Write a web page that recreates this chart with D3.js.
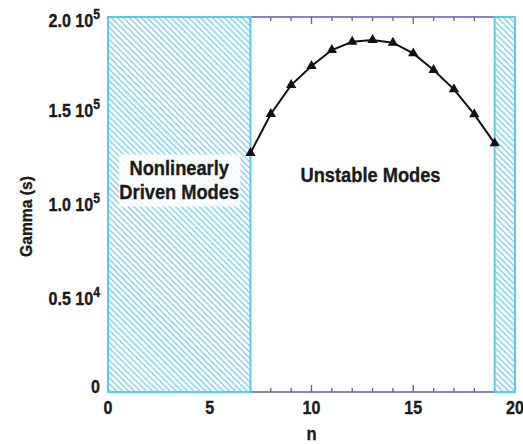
<!DOCTYPE html>
<html>
<head>
<meta charset="utf-8">
<script src="https://cdn.jsdelivr.net/npm/d3@7"></script>
<style>
  html, body { margin: 0; padding: 0; background: #ffffff; }
  svg { display: block; }
  text { font-family: "Liberation Sans", Arial, Helvetica, sans-serif; font-weight: bold; fill: #1a1a1a; stroke: #1a1a1a; stroke-width: 0.35px; }
</style>
</head>
<body>
<div id="chart"></div>
<script>
// Growth rate of each toroidal mode number n
const modeNumbers = [7, 8, 9, 10, 11, 12, 13, 14, 15, 16, 17, 18, 19];
const gammaValues = [127500, 148300, 163700, 173900, 182400, 186800, 187700, 186300, 180600, 171700, 161400, 148100, 132600];

// Ranges of n that are driven only nonlinearly (shaded)
const stableRanges = [[0, 7], [19, 20]];

// Axis ticks and labels
const xTickValues = [0, 5, 10, 15, 20];
const xMinorTicks = d3.range(0, 21);
const yTickValues = [0, 50000, 100000, 150000, 200000];
const yTickMantissa = ["0", "0.5", "1.0", "1.5", "2.0"];
const yTickExponent = ["", "4", "5", "5", "5"];

// Text annotations: label lines placed at (n, gamma)
const regionLabels = [
  { lines: ["Nonlinearly", "Driven Modes"], n: 3.5, g: 115500, box: true },
  { lines: ["Unstable Modes"], n: 12.9, g: 112200, box: false }
];

const W = 523, H = 444;
const plotLeft = 108, plotRight = 515, plotTop = 17, plotBottom = 392;
const squeeze = 0.87;           // narrow bold face
const axisColor = "#5b5bbd";
const hatchEdge = "#5ccbe6";
const hatchLine = "#7fd2ea";

const svg = d3.select("#chart").append("svg")
  .attr("width", W).attr("height", H);

const x = d3.scaleLinear().domain([0, 20]).range([plotLeft, plotRight]);
const y = d3.scaleLinear().domain([0, 200000]).range([plotBottom, plotTop]);

// diagonal hatch pattern
const defs = svg.append("defs");
const pat = defs.append("pattern")
  .attr("id", "hatch")
  .attr("patternUnits", "userSpaceOnUse")
  .attr("width", 8).attr("height", 4.2)
  .attr("patternTransform", "rotate(45)");
pat.append("line")
  .attr("x1", 0).attr("x2", 8).attr("y1", 1).attr("y2", 1)
  .attr("stroke", hatchLine).attr("stroke-width", 1.4);

// bottom and top axes with inward ticks
function drawXAxis(yPos, dir) {
  const g = svg.append("g");
  g.append("line")
    .attr("x1", x(0)).attr("x2", x(20))
    .attr("y1", yPos).attr("y2", yPos)
    .attr("stroke", axisColor).attr("stroke-width", 1.5);
  g.selectAll("line.tick").data(xMinorTicks).join("line")
    .attr("class", "tick")
    .attr("x1", d => x(d)).attr("x2", d => x(d))
    .attr("y1", yPos)
    .attr("y2", d => yPos + dir * (d % 5 === 0 ? 7 : 4))
    .attr("stroke", axisColor).attr("stroke-width", 1.3);
}
drawXAxis(y(0), -1);
drawXAxis(y(200000), 1);

// shaded regions
svg.selectAll("rect.region").data(stableRanges).join("rect")
  .attr("class", "region")
  .attr("x", d => x(d[0]))
  .attr("y", y(200000))
  .attr("width", d => x(d[1]) - x(d[0]))
  .attr("height", y(0) - y(200000))
  .attr("fill", "#ffffff");
svg.selectAll("rect.hatch").data(stableRanges).join("rect")
  .attr("class", "hatch")
  .attr("x", d => x(d[0]))
  .attr("y", y(200000))
  .attr("width", d => x(d[1]) - x(d[0]))
  .attr("height", y(0) - y(200000))
  .attr("fill", "url(#hatch)")
  .attr("stroke", hatchEdge).attr("stroke-width", 2);

// region annotations
regionLabels.forEach(lab => {
  const cx = x(lab.n), by = y(lab.g);
  const lineGap = 23.5;
  const g = svg.append("g").attr("transform", `translate(${cx},${by})`);
  if (lab.box) {
    g.append("rect")
      .attr("x", -60).attr("y", -21)
      .attr("width", 121).attr("height", 52)
      .attr("fill", "#ffffff").attr("opacity", 0.85);
  }
  lab.lines.forEach((t, i) => {
    g.append("text")
      .attr("transform", `translate(0,${i * lineGap}) scale(${squeeze},1)`)
      .attr("text-anchor", "middle")
      .attr("font-size", 21)
      .text(t);
  });
});

// growth-rate curve
const pts = modeNumbers.map((n, i) => [n, gammaValues[i]]);
svg.append("path")
  .datum(pts)
  .attr("fill", "none")
  .attr("stroke", "#111111")
  .attr("stroke-width", 2)
  .attr("d", d3.line().x(d => x(d[0])).y(d => y(d[1])));
svg.selectAll("path.marker").data(pts).join("path")
  .attr("class", "marker")
  .attr("transform", d => `translate(${x(d[0])},${y(d[1])})`)
  .attr("d", d3.symbol(d3.symbolTriangle, 46)())
  .attr("fill", "#111111");

// x tick labels
svg.selectAll("text.xtick").data(xTickValues).join("text")
  .attr("class", "xtick")
  .attr("transform", d => `translate(${x(d)},414) scale(${squeeze},1)`)
  .attr("text-anchor", "middle")
  .attr("font-size", 18.5)
  .text(d => d);

// y tick labels with powers of ten
yTickValues.forEach((v, i) => {
  let yy = y(v) + 6.5;
  if (i === 0) yy -= 6;
  if (i === yTickValues.length - 1) yy += 3;
  const t = svg.append("text")
    .attr("transform", `translate(100,${yy}) scale(${squeeze},1)`)
    .attr("text-anchor", "end")
    .attr("font-size", 18.5);
  if (yTickExponent[i]) {
    t.append("tspan").text(yTickMantissa[i] + " 10");
    t.append("tspan").attr("dy", -8).attr("font-size", 14).text(yTickExponent[i]);
  } else {
    t.text(yTickMantissa[i]);
  }
});

// axis titles
svg.append("text")
  .attr("transform", `translate(${(plotLeft + plotRight) / 2},440) scale(${squeeze},1)`)
  .attr("text-anchor", "middle")
  .attr("font-size", 19)
  .text("n");
svg.append("text")
  .attr("transform", `translate(32,${(plotTop + plotBottom) / 2 + 12}) rotate(-90) scale(0.92,1)`)
  .attr("text-anchor", "middle")
  .attr("font-size", 17)
  .text("Gamma (s)");
</script>
</body>
</html>
